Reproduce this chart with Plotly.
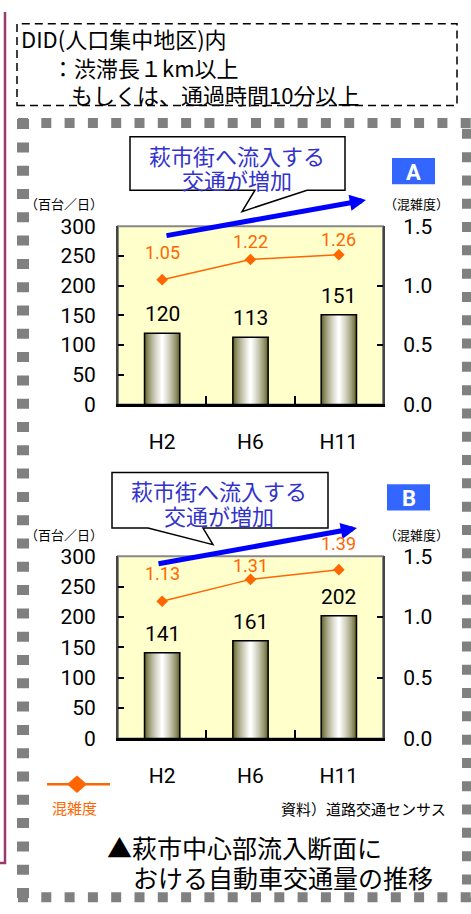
import plotly.graph_objects as go

W, H = 471, 914

# ---------------- data ----------------
categories = ["H2", "H6", "H11"]
traffic_A = [120, 113, 151]          # 百台/日
congestion_A = [1.05, 1.22, 1.26]    # 混雑度
traffic_B = [141, 161, 202]
congestion_B = [1.13, 1.31, 1.39]
left_ticks = [0, 50, 100, 150, 200, 250, 300]
right_ticks = [0.0, 0.5, 1.0, 1.5]
right_tick_text = ["0.0", "0.5", "1.0", "1.5"]

note_lines = ["DID(人口集中地区)内", "：渋滞長１km以上", "もしくは、通過時間10分以上"]
callout_lines = ["萩市街へ流入する", "交通が増加"]
title_lines = ["▲萩市中心部流入断面に", "おける自動車交通量の推移"]
source_text = "資料）道路交通センサス"
left_unit = "（百台／日）"
right_unit = "（混雑度）"
legend_text = "混雑度"

# ---------------- styles ----------------
ORANGE = "#FF6600"
NUM_FONT = "Roboto"
JP_FONT = "Noto Sans CJK JP"
cong_shift_A = [27, 18, 15]
cong_shift_B = [28, 14, 26]
bar_shift = 19


def px(x):
    return x / W


def py(y):
    return 1 - y / H


fig = go.Figure()

# gradient bars (overlaid, narrowing layers)
N = 16
dark = (92, 92, 30)


def mix(t):
    r = [int(round(d + (255 - d) * t)) for d in dark]
    return f"rgb({r[0]},{r[1]},{r[2]})"


def add_bars(vals, xa, ya):
    for k in range(N):
        t = (k / (N - 1)) ** 0.7
        fig.add_trace(go.Bar(
            x=categories, y=vals, width=0.4 * (1 - k / N),
            marker=dict(color=mix(t), line=dict(width=0)),
            xaxis=xa, yaxis=ya, showlegend=False, hoverinfo="skip"))
    fig.add_trace(go.Bar(
        x=categories, y=vals, width=0.4,
        marker=dict(color="rgba(0,0,0,0)", line=dict(color="black", width=1.5)),
        xaxis=xa, yaxis=ya, showlegend=False, hoverinfo="skip"))


def add_line(vals, xa, ya):
    fig.add_trace(go.Scatter(
        x=categories, y=vals, mode="lines+markers",
        line=dict(color=ORANGE, width=1.5),
        marker=dict(symbol="diamond", size=9, color=ORANGE),
        xaxis=xa, yaxis=ya, showlegend=False, hoverinfo="skip"))


add_bars(traffic_A, "x", "y")
add_bars(traffic_B, "x2", "y2")
add_line(congestion_A, "x", "y3")
add_line(congestion_B, "x2", "y4")

num_tick = dict(family=NUM_FONT, size=21, color="black")


def xax(anchor):
    return dict(domain=[px(118), px(383)], anchor=anchor, type="category",
                categoryorder="array", categoryarray=categories, range=[-0.5, 2.5],
                tickson="boundaries", ticks="inside", ticklen=8, tickwidth=1.5,
                tickcolor="black", showline=True, linecolor="black", linewidth=3,
                tickfont=num_tick, ticklabelstandoff=16, showgrid=False, zeroline=False)


def yleft(dom, anchor):
    return dict(domain=dom, anchor=anchor, range=[0, 300], tickvals=left_ticks,
                ticks="inside", ticklen=6, tickwidth=1.5, tickcolor="black",
                showline=True, linecolor="#444", linewidth=2, tickfont=num_tick,
                ticklabelstandoff=16, showgrid=False, zeroline=False)


def yright(over, anchor):
    return dict(overlaying=over, anchor=anchor, side="right", range=[0, 1.5],
                tickvals=right_ticks, ticktext=right_tick_text,
                ticks="inside", ticklen=6, tickwidth=1.5, tickcolor="black",
                showline=True, linecolor="#444", linewidth=2, tickfont=num_tick,
                ticklabelstandoff=14, showgrid=False, zeroline=False)


shapes = []
annotations = []

# plot area borders
for xr, yr in [("x domain", "y domain"), ("x2 domain", "y2 domain")]:
    shapes.append(dict(type="rect", xref=xr, yref=yr, x0=0, x1=1, y0=0, y1=1,
                       line=dict(color="#888", width=2), layer="below"))

# purple left rule
shapes.append(dict(type="path", xref="paper", yref="paper",
                   path=f"M{px(5)},{py(0)} L{px(5)},{py(874)} L{px(0)},{py(874)}",
                   line=dict(color="#9B3A6A", width=2.5)))

# dashed note box
shapes.append(dict(type="rect", xref="paper", yref="paper",
                   x0=px(17), x1=px(457), y0=py(96), y1=py(12),
                   line=dict(color="black", width=1.5, dash="8px,5px")))

# grey square-dotted frame
GRAY = "#808080"
for (x0, y0, x1, y1, w) in [(18, 114, 471, 114, 10), (23, 110, 23, 914, 12),
                            (467, 120, 467, 914, 10), (18, 909, 471, 909, 10)]:
    shapes.append(dict(type="line", xref="paper", yref="paper",
                       x0=px(x0), y0=py(y0), x1=px(x1), y1=py(y1),
                       line=dict(color=GRAY, width=w, dash="10px,13.3px")))


def callout(box, tail):
    (l, t, r, b) = box
    (b1, tip, b2) = tail
    path = (f"M{px(l)},{py(t)} L{px(r)},{py(t)} L{px(r)},{py(b)} "
            f"L{px(b2)},{py(b)} L{px(tip[0])},{py(tip[1])} L{px(b1)},{py(b)} "
            f"L{px(l)},{py(b)} Z")
    shapes.append(dict(type="path", xref="paper", yref="paper", path=path,
                       fillcolor="white", line=dict(color="black", width=1.5)))


callout((130, 128, 345, 183), (255, (242, 205), 307))
callout((112, 473, 328, 530), (148, (213, 547), 203))

# badges
for (l, t, r, b, letter) in [(392, 150, 435, 177, "A"), (387, 485, 430, 512, "B")]:
    shapes.append(dict(type="rect", xref="paper", yref="paper",
                       x0=px(l), x1=px(r), y0=py(b), y1=py(t),
                       fillcolor="#3366FF", line=dict(width=0)))
    annotations.append(dict(xref="paper", yref="paper", x=px((l + r) / 2), y=py((t + b) / 2 + 1),
                            text=f"<b>{letter}</b>", showarrow=False,
                            font=dict(family="Roboto", size=22, color="white"),
                            xanchor="center", yanchor="middle"))

# legend sample
shapes.append(dict(type="line", xref="paper", yref="paper",
                   x0=px(47), x1=px(110), y0=py(793), y1=py(793),
                   line=dict(color=ORANGE, width=2.5)))
shapes.append(dict(type="path", xref="paper", yref="paper",
                   path=f"M{px(67)},{py(793)} L{px(77)},{py(784)} L{px(87)},{py(793)} L{px(77)},{py(802)} Z",
                   fillcolor=ORANGE, line=dict(width=0)))


def text(x, y, s, size, color="black", anchor="left", family=JP_FONT):
    annotations.append(dict(xref="paper", yref="paper", x=px(x), y=py(y), text=s,
                            showarrow=False, xanchor=anchor, yanchor="middle",
                            font=dict(family=family, size=size, color=color)))


# note box text
text(19, 27, note_lines[0], 22)
text(50, 56, note_lines[1], 22)
text(69, 84, note_lines[2], 22)

# callout text
BLUE_TXT = "#3333CC"
text(237, 147, callout_lines[0], 22, BLUE_TXT, "center")
text(237, 172, callout_lines[1], 22, BLUE_TXT, "center")
text(219, 491, callout_lines[0], 22, BLUE_TXT, "center")
text(219, 517, callout_lines[1], 22, BLUE_TXT, "center")

# units
for yy in (197, 537):
    text(64, yy, left_unit, 13, anchor="center")
    text(416, yy, right_unit, 13, anchor="center")

# legend label / source / title
text(74, 817, legend_text, 15, ORANGE, "center")
text(448, 818, source_text, 15, anchor="right")
text(105, 858, title_lines[0], 25)
text(131, 888, title_lines[1], 25)

# blue arrows
for (hx, hy, tx, ty) in [(366, 193, 165, 229), (357, 530, 157, 566)]:
    annotations.append(dict(xref="paper", yref="paper", x=px(hx), y=py(hy),
                            ax=tx - hx, ay=ty - hy, axref="pixel", ayref="pixel",
                            text="", showarrow=True, arrowhead=2, arrowsize=0.65,
                            arrowwidth=5, arrowcolor="#0000FF", standoff=0))

# value labels
for xa, ya, yr, bars, cong, shifts in [("x", "y", "y3", traffic_A, congestion_A, cong_shift_A),
                                        ("x2", "y2", "y4", traffic_B, congestion_B, cong_shift_B)]:
    for c, v in zip(categories, bars):
        annotations.append(dict(xref=xa, yref=ya, x=c, y=v, text=str(v), showarrow=False,
                                yanchor="middle", yshift=bar_shift,
                                font=dict(family=NUM_FONT, size=21, color="black")))
    for c, v, s in zip(categories, cong, shifts):
        annotations.append(dict(xref=xa, yref=yr, x=c, y=v, text=f"{v:.2f}", showarrow=False,
                                yanchor="middle", yshift=s,
                                font=dict(family=NUM_FONT, size=18, color=ORANGE)))

fig.update_layout(
    width=W, height=H, margin=dict(l=0, r=0, t=0, b=0),
    paper_bgcolor="white", plot_bgcolor="#FFFFCC",
    barmode="overlay", showlegend=False,
    xaxis=xax("y"), xaxis2=xax("y2"),
    yaxis=yleft([py(403), py(220)], "x"),
    yaxis2=yleft([py(746), py(559)], "x2"),
    yaxis3=yright("y", "x"),
    yaxis4=yright("y2", "x2"),
    shapes=shapes, annotations=annotations,
)

fig.write_html("out.html")
